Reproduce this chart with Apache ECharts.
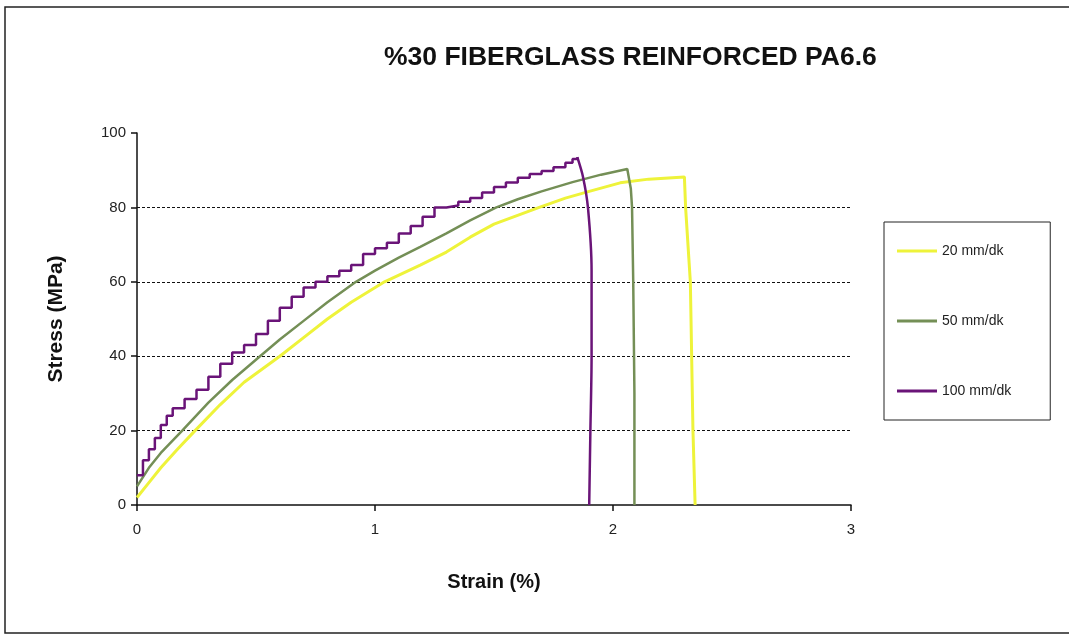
<!DOCTYPE html>
<html>
<head>
<meta charset="utf-8">
<script src="https://cdn.jsdelivr.net/npm/echarts@6/dist/echarts.min.js"></script>
<style>
  html, body { margin: 0; padding: 0; background: #fff; }
  #chart { width: 1069px; height: 636px; }
</style>
</head>
<body>
<div id="chart"></div>
<script>
// ---- data ----
const seriesNames = ['20 mm/dk', '50 mm/dk', '100 mm/dk'];

const yellowStrain = [0, 0.05, 0.1, 0.17, 0.244, 0.35, 0.45, 0.6, 0.7, 0.8, 0.9, 1.04, 1.19, 1.3, 1.4, 1.5, 1.69, 1.8, 1.9, 2.03, 2.15, 2.3, 2.305, 2.325, 2.336, 2.345];
const yellowStress = [2, 6, 10, 15, 20, 27, 33, 40, 45, 50, 54.5, 60, 64.5, 68, 72, 75.5, 80, 82.5, 84.3, 86.6, 87.6, 88.2, 80, 60, 20, 0];

const greenStrain = [0, 0.05, 0.1, 0.19, 0.3, 0.4, 0.517, 0.6, 0.7, 0.8, 0.92, 1.0, 1.1, 1.19, 1.3, 1.4, 1.51, 1.6, 1.7, 1.83, 1.95, 2.06, 2.075, 2.08, 2.085, 2.09, 2.09];
const greenStress = [5, 10, 14, 20, 27.5, 33.6, 40, 44.5, 49.5, 54.5, 60, 63, 66.5, 69.4, 73, 76.5, 80, 82.2, 84.3, 86.8, 88.8, 90.3, 85, 80, 60, 30, 0];

// rising (stair-stepped) part of the 100 mm/dk curve
const purpleStrain = [0, 0.025, 0.05, 0.075, 0.1, 0.125, 0.15, 0.2, 0.25, 0.3, 0.35, 0.4, 0.45, 0.5, 0.55, 0.6, 0.65, 0.7, 0.75, 0.8, 0.85, 0.9, 0.95, 1.0, 1.05, 1.1, 1.15, 1.2, 1.25, 1.3, 1.35, 1.4, 1.45, 1.5, 1.55, 1.6, 1.65, 1.7, 1.75, 1.8, 1.83, 1.85];
const purpleStress = [8, 12, 15, 18, 21.5, 24, 26, 28.5, 31, 34.5, 38, 41, 43, 46, 49.5, 53, 56, 58.5, 60, 61.5, 63, 64.5, 67.5, 69, 70.5, 73, 75, 77.5, 80, 80.5, 81.5, 82.5, 84, 85.5, 86.7, 88, 89, 89.8, 90.8, 92, 93, 93.5];
// fracture part of the 100 mm/dk curve
const purpleDropStrain = [1.85, 1.874, 1.895, 1.91, 1.91, 1.905, 1.9];
const purpleDropStress = [93.5, 88.2, 79.8, 63, 40, 20, 0];

const xTicks = [0, 1, 2, 3];
const yTicks = [0, 20, 40, 60, 80, 100];

const colors = ['#eef33a', '#748f56', '#6a1478'];

function zip(xs, ys) { return xs.map((x, i) => [x, ys[i]]); }

const chart = echarts.init(document.getElementById('chart'), null, { renderer: 'canvas' });
const FONT = "'Liberation Sans', Arial, sans-serif";

chart.setOption({
  backgroundColor: '#ffffff',
  animation: false,
  title: {
    text: '%30 FIBERGLASS REINFORCED PA6.6',
    left: 379,
    top: 39,
    textStyle: {
      fontFamily: FONT,
      fontWeight: 'bold',
      fontSize: 26.5,
      color: '#111'
    }
  },
  legend: {
    orient: 'vertical',
    left: 884,
    top: 222,
    data: seriesNames,
    icon: 'rect',
    itemWidth: 40,
    itemHeight: 3,
    itemGap: 56,
    padding: [22, 39, 22, 13],
    borderColor: '#222',
    borderWidth: 1,
    textStyle: { fontFamily: FONT, fontSize: 14, color: '#222', padding: [0, 0, 0, 0] }
  },
  grid: { left: 137, right: 218, top: 133, bottom: 131, containLabel: false },
  xAxis: {
    type: 'value',
    min: 0, max: 3, interval: 1,
    name: 'Strain (%)',
    nameLocation: 'middle',
    nameGap: 67,
    nameTextStyle: { fontFamily: FONT, fontWeight: 'bold', fontSize: 20, color: '#111' },
    axisLine: { lineStyle: { color: '#111', width: 1.5 } },
    axisTick: { show: true, length: 6, lineStyle: { color: '#111', width: 1.5 } },
    axisLabel: { fontFamily: FONT, fontSize: 15, color: '#222', margin: 17 },
    splitLine: { show: false }
  },
  yAxis: {
    type: 'value',
    min: 0, max: 100, interval: 20,
    name: 'Stress (MPa)',
    nameLocation: 'middle',
    nameGap: 70,
    nameRotate: 90,
    nameTextStyle: { fontFamily: FONT, fontWeight: 'bold', fontSize: 21, color: '#111' },
    axisLine: { show: true, lineStyle: { color: '#111', width: 1.5 } },
    axisTick: { show: true, length: 6, lineStyle: { color: '#111', width: 1.5 } },
    axisLabel: { fontFamily: FONT, fontSize: 15, color: '#222', margin: 11 },
    splitLine: { show: true, showMinLine: false, showMaxLine: false, lineStyle: { color: '#111', type: [3, 2], width: 1 } }
  },
  series: [
    {
      name: seriesNames[0], type: 'line', showSymbol: false, smooth: false,
      data: zip(yellowStrain, yellowStress),
      lineStyle: { color: colors[0], width: 3 }, itemStyle: { color: colors[0] }, z: 2
    },
    {
      name: seriesNames[1], type: 'line', showSymbol: false, smooth: false,
      data: zip(greenStrain, greenStress),
      lineStyle: { color: colors[1], width: 2.5 }, itemStyle: { color: colors[1] }, z: 3
    },
    {
      name: seriesNames[2], type: 'line', showSymbol: false, step: 'end',
      data: zip(purpleStrain, purpleStress),
      lineStyle: { color: colors[2], width: 2.5 }, itemStyle: { color: colors[2] }, z: 4
    },
    {
      name: seriesNames[2], type: 'line', showSymbol: false, smooth: 0.3,
      data: zip(purpleDropStrain, purpleDropStress),
      lineStyle: { color: colors[2], width: 2.5 }, itemStyle: { color: colors[2] }, z: 4
    }
  ],
  graphic: [
    {
      type: 'rect',
      shape: { x: 5, y: 7, width: 1100, height: 626 },
      style: { fill: 'none', stroke: '#222', lineWidth: 1.5 },
      silent: true
    }
  ]
});
</script>
</body>
</html>
